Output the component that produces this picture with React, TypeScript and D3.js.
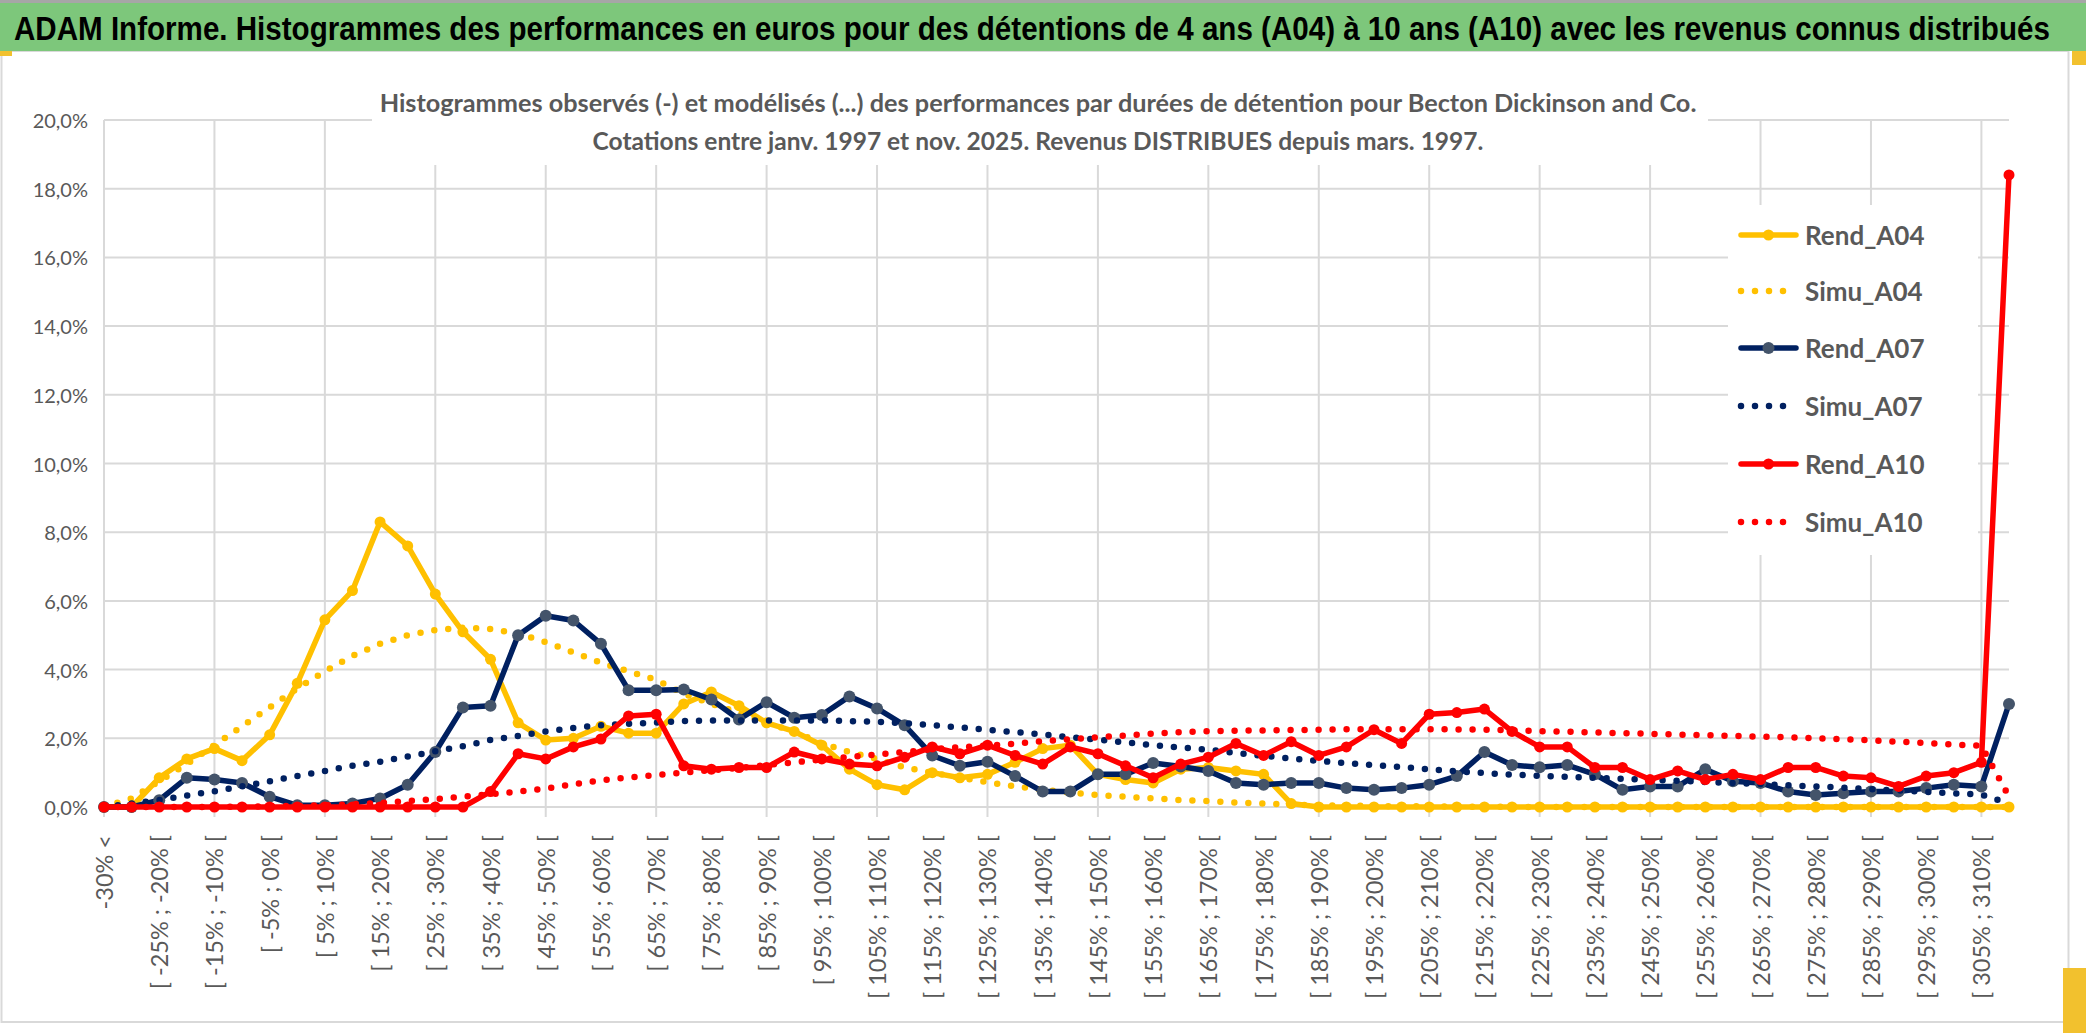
import React, { useLayoutEffect, useRef, useState } from 'react';
import * as d3 from 'd3';

const categories: string[] = [
  '-30% <', '[ -30% ; -25% [', '[ -25% ; -20% [', '[ -20% ; -15% [', '[ -15% ; -10% [', '[ -10% ; -5% [',
  '[ -5% ; 0% [', '[ 0% ; 5% [', '[ 5% ; 10% [', '[ 10% ; 15% [', '[ 15% ; 20% [', '[ 20% ; 25% [',
  '[ 25% ; 30% [', '[ 30% ; 35% [', '[ 35% ; 40% [', '[ 40% ; 45% [', '[ 45% ; 50% [', '[ 50% ; 55% [',
  '[ 55% ; 60% [', '[ 60% ; 65% [', '[ 65% ; 70% [', '[ 70% ; 75% [', '[ 75% ; 80% [', '[ 80% ; 85% [',
  '[ 85% ; 90% [', '[ 90% ; 95% [', '[ 95% ; 100% [', '[ 100% ; 105% [', '[ 105% ; 110% [', '[ 110% ; 115% [',
  '[ 115% ; 120% [', '[ 120% ; 125% [', '[ 125% ; 130% [', '[ 130% ; 135% [', '[ 135% ; 140% [', '[ 140% ; 145% [',
  '[ 145% ; 150% [', '[ 150% ; 155% [', '[ 155% ; 160% [', '[ 160% ; 165% [', '[ 165% ; 170% [', '[ 170% ; 175% [',
  '[ 175% ; 180% [', '[ 180% ; 185% [', '[ 185% ; 190% [', '[ 190% ; 195% [', '[ 195% ; 200% [', '[ 200% ; 205% [',
  '[ 205% ; 210% [', '[ 210% ; 215% [', '[ 215% ; 220% [', '[ 220% ; 225% [', '[ 225% ; 230% [', '[ 230% ; 235% [',
  '[ 235% ; 240% [', '[ 240% ; 245% [', '[ 245% ; 250% [', '[ 250% ; 255% [', '[ 255% ; 260% [', '[ 260% ; 265% [',
  '[ 265% ; 270% [', '[ 270% ; 275% [', '[ 275% ; 280% [', '[ 280% ; 285% [', '[ 285% ; 290% [', '[ 290% ; 295% [',
  '[ 295% ; 300% [', '[ 300% ; 305% [', '[ 305% ; 310% [', '> 310%',
];

const rendA04: number[] = [
  0, 0, 0.85, 1.4, 1.7, 1.35, 2.1, 3.6, 5.45, 6.3,
  8.3, 7.6, 6.2, 5.1, 4.3, 2.45, 1.95, 2.0, 2.35, 2.15,
  2.15, 3.0, 3.35, 2.95, 2.45, 2.2, 1.8, 1.1, 0.65, 0.5,
  1.0, 0.85, 0.95, 1.3, 1.7, 1.8, 0.95, 0.8, 0.7, 1.1,
  1.15, 1.05, 0.95, 0.1, 0, 0, 0, 0, 0, 0,
  0, 0, 0, 0, 0, 0, 0, 0, 0, 0,
  0, 0, 0, 0, 0, 0, 0, 0, 0, 0,
];

const simuA04: number[] = [
  0, 0.25, 0.75, 1.25, 1.8, 2.35, 2.9, 3.45, 3.95, 4.4,
  4.75, 5.0, 5.15, 5.22, 5.18, 5.05, 4.8, 4.5, 4.2, 3.95,
  3.7, 3.3, 3.0, 2.75, 2.45, 2.2, 1.85, 1.6, 1.4, 1.15,
  1.0, 0.85, 0.72, 0.6, 0.5, 0.42, 0.35, 0.3, 0.25, 0.2,
  0.17, 0.13, 0.1, 0.07, 0.05, 0.04, 0.03, 0.02, 0.02, 0.01,
  0.01, 0, 0, 0, 0, 0, 0, 0, 0, 0,
  0, 0, 0, 0, 0, 0, 0, 0, 0, 0,
];

const rendA07: number[] = [
  0, 0, 0.2, 0.85, 0.8, 0.7, 0.3, 0.05, 0.05, 0.1,
  0.25, 0.65, 1.6, 2.9, 2.95, 5.0, 5.57, 5.43, 4.75, 3.4,
  3.4, 3.42, 3.13, 2.55, 3.05, 2.6, 2.68, 3.22, 2.87, 2.38,
  1.5, 1.2, 1.32, 0.9, 0.45, 0.45, 0.95, 0.95, 1.28, 1.18,
  1.05, 0.7, 0.65, 0.7, 0.7, 0.55, 0.5, 0.55, 0.65, 0.9,
  1.6, 1.22, 1.16, 1.22, 0.95, 0.5, 0.6, 0.6, 1.1, 0.75,
  0.7, 0.45, 0.35, 0.4, 0.45, 0.45, 0.55, 0.65, 0.6, 3.0,
];

const simuA07: number[] = [
  0, 0.1, 0.2, 0.33, 0.46, 0.6, 0.75, 0.9, 1.05, 1.2,
  1.32, 1.47, 1.62, 1.77, 1.95, 2.07, 2.2, 2.3, 2.38, 2.42,
  2.46, 2.5, 2.52, 2.52, 2.52, 2.52, 2.52, 2.5, 2.48, 2.44,
  2.38, 2.32, 2.25, 2.18, 2.11, 2.03, 1.96, 1.88, 1.8, 1.73,
  1.67, 1.57, 1.49, 1.41, 1.34, 1.28, 1.22, 1.16, 1.1, 1.04,
  0.99, 0.94, 0.91, 0.88, 0.85, 0.82, 0.79, 0.76, 0.73, 0.7,
  0.67, 0.63, 0.6, 0.56, 0.52, 0.48, 0.44, 0.4, 0.36, 0.1,
];

const rendA10: number[] = [
  0, 0, 0, 0, 0, 0, 0, 0, 0, 0,
  0, 0, 0, 0, 0.45, 1.55, 1.4, 1.75, 1.98, 2.65,
  2.7, 1.2, 1.1, 1.15, 1.15, 1.6, 1.4, 1.25, 1.2, 1.45,
  1.75, 1.55, 1.8, 1.5, 1.25, 1.75, 1.55, 1.2, 0.85, 1.25,
  1.45, 1.85, 1.5, 1.9, 1.5, 1.75, 2.25, 1.85, 2.7, 2.75,
  2.85, 2.2, 1.75, 1.75, 1.15, 1.15, 0.8, 1.05, 0.8, 0.95,
  0.8, 1.15, 1.15, 0.9, 0.85, 0.6, 0.9, 1.0, 1.3, 18.4,
];

const simuA10: number[] = [
  0, 0, 0, 0, 0, 0.01, 0.02, 0.03, 0.05, 0.08,
  0.12, 0.17, 0.23, 0.3, 0.37, 0.45, 0.54, 0.66, 0.78, 0.86,
  0.93, 1.0, 1.07, 1.14, 1.22, 1.3, 1.38, 1.46, 1.53, 1.6,
  1.68, 1.74, 1.79, 1.84, 1.92, 1.97, 2.03, 2.08, 2.14, 2.18,
  2.21, 2.22, 2.23, 2.24, 2.25, 2.26, 2.26, 2.26, 2.26, 2.26,
  2.25, 2.23, 2.21, 2.19, 2.17, 2.15, 2.13, 2.11, 2.09, 2.07,
  2.05, 2.03, 2.0, 1.97, 1.94, 1.9, 1.86, 1.82, 1.78, 0.3,
];

const seriesNames = ['Rend_A04', 'Simu_A04', 'Rend_A07', 'Simu_A07', 'Rend_A10', 'Simu_A10'];
const yTickValues = [0, 2, 4, 6, 8, 10, 12, 14, 16, 18, 20];

const TITLE = 'ADAM Informe. Histogrammes des performances en euros pour des détentions de 4 ans (A04) à 10 ans (A10) avec les revenus connus distribués';
const SUB1 = 'Histogrammes observés (-) et modélisés (...) des performances par durées de détention pour Becton Dickinson and Co.';
const SUB2 = 'Cotations entre janv. 1997 et nov. 2025. Revenus DISTRIBUES depuis mars. 1997.';

const W = 2086;
const H = 1033;
const FONT = "Lato, 'Open Sans', 'Liberation Sans', sans-serif";

type Series = { name: string; values: number[]; color: string; dotted: boolean; markerFill?: string; markerR?: number };

function FitText(props: { x: number; y: number; width: number; fontSize: number; weight?: string; fill: string; family?: string; anchor?: 'start' | 'middle'; text: string }) {
  const ref = useRef<SVGTextElement>(null);
  const [sx, setSx] = useState(1);
  useLayoutEffect(() => {
    if (ref.current) {
      const w = ref.current.getComputedTextLength();
      if (w > 0) setSx(props.width / w);
    }
  }, [props.text, props.width]);
  return (
    <g transform={`translate(${props.x},${props.y}) scale(${sx},1)`}>
      <text ref={ref} x={0} y={0} fontSize={props.fontSize} fontWeight={props.weight} fill={props.fill}
        fontFamily={props.family} textAnchor={props.anchor || 'start'}>{props.text}</text>
    </g>
  );
}

export default function App() {
  const x = d3.scalePoint<string>().domain(categories).range([104, 2009]);
  const y = d3.scaleLinear().domain([0, 20]).range([807, 120]);
  const xi = (i: number) => x(categories[i]) as number;

  const series: Series[] = [
    { name: seriesNames[0], values: rendA04, color: '#FFC000', dotted: false, markerFill: '#FFC000', markerR: 5.5 },
    { name: seriesNames[1], values: simuA04, color: '#FFC000', dotted: true },
    { name: seriesNames[2], values: rendA07, color: '#002060', dotted: false, markerFill: '#44546A', markerR: 6 },
    { name: seriesNames[3], values: simuA07, color: '#002060', dotted: true },
    { name: seriesNames[4], values: rendA10, color: '#FF0000', dotted: false, markerFill: '#FF0000', markerR: 5.5 },
    { name: seriesNames[5], values: simuA10, color: '#FF0000', dotted: true },
  ];

  const lineGen = d3
    .line<number>()
    .x((_, i) => xi(i))
    .y((d) => y(d));

  const legendY = [235, 291, 348, 406, 464, 522];

  return (
    <svg width={W} height={H} style={{ position: 'absolute', left: 0, top: 0, background: '#fff' }} fontFamily={FONT}>
      <rect x={0} y={0} width={W} height={H} fill="#fff" />
      {/* outer chart frame */}
      <rect x={1.5} y={51} width={2067} height={971} fill="#fff" stroke="#D9D9D9" strokeWidth={2} />
      {/* title bar */}
      <rect x={0} y={0} width={W} height={3} fill="#A6A6A6" />
      <rect x={0} y={3} width={W} height={48} fill="#7DC77B" />
      <FitText x={14} y={40} width={2036} fontSize={34} weight="bold" fill="#000"
        family="'Liberation Sans Narrow', 'Liberation Sans', sans-serif" text={TITLE} />
      <rect x={0} y={51} width={12} height={5} fill="#F2C12E" />
      <rect x={2072} y={51} width={14} height={14} fill="#F2C12E" />

      {/* horizontal gridlines */}
      {yTickValues.map((v) => (
        <line key={'h' + v} x1={104} x2={2009} y1={y(v)} y2={y(v)} stroke="#D9D9D9" strokeWidth={2} />
      ))}
      {/* vertical gridlines every 4 categories */}
      {categories.map((c, i) =>
        i % 4 === 0 ? <line key={'v' + i} x1={xi(i)} x2={xi(i)} y1={y(20)} y2={y(0) + 10} stroke="#D9D9D9" strokeWidth={2} /> : null
      )}

      {/* subtitle box */}
      <rect x={372} y={72} width={1336} height={93} fill="#fff" />
      <FitText x={1038} y={112} width={1318} fontSize={25} weight="bold" fill="#595959" anchor="middle" text={SUB1} />
      <FitText x={1038} y={150} width={891} fontSize={25} weight="bold" fill="#595959" anchor="middle" text={SUB2} />

      {/* y-axis labels */}
      {yTickValues.map((v) => (
        <text key={'yl' + v} x={88} y={y(v)} fontSize={20} fill="#595959" textAnchor="end" dominantBaseline="central">
          {d3.format('.1f')(v).replace('.', ',') + '%'}
        </text>
      ))}

      {/* x-axis labels */}
      {categories.map((c, i) =>
        i % 2 === 0 ? (
          <text key={'xl' + i} transform={`translate(${xi(i)},835) rotate(-90)`} fontSize={23.5} fill="#595959" textAnchor="end" dominantBaseline="central">
            {c}
          </text>
        ) : null
      )}

      {/* series */}
      {series.map((s) => (
        <g key={s.name}>
          <path
            d={lineGen(s.values) as string}
            fill="none"
            stroke={s.color}
            strokeWidth={s.dotted ? 6.5 : 5.5}
            strokeLinejoin="round"
            strokeLinecap="round"
            strokeDasharray={s.dotted ? '0,14' : undefined}
          />
          {!s.dotted &&
            s.values.map((v, i) => <circle key={i} cx={xi(i)} cy={y(v)} r={s.markerR} fill={s.markerFill} />)}
        </g>
      ))}

      {/* legend */}
      <rect x={1728} y={205} width={250} height={350} fill="#fff" />
      {series.map((s, k) => (
        <g key={'lg' + s.name} transform={`translate(0,${legendY[k]})`}>
          <line x1={1741} x2={1796} y1={0} y2={0} stroke={s.color} strokeWidth={s.dotted ? 6.5 : 5.5}
            strokeLinecap="round" strokeDasharray={s.dotted ? '0,14' : undefined} />
          {!s.dotted && <circle cx={1768.5} cy={0} r={s.markerR} fill={s.markerFill} />}
          <text x={1805} y={0} fontSize={26} fontWeight="bold" fill="#595959" dominantBaseline="central">{s.name}</text>
        </g>
      ))}

      {/* small yellow corner shape */}
      <rect x={2063} y={968} width={23} height={65} fill="#F2C12E" />
    </svg>
  );
}
